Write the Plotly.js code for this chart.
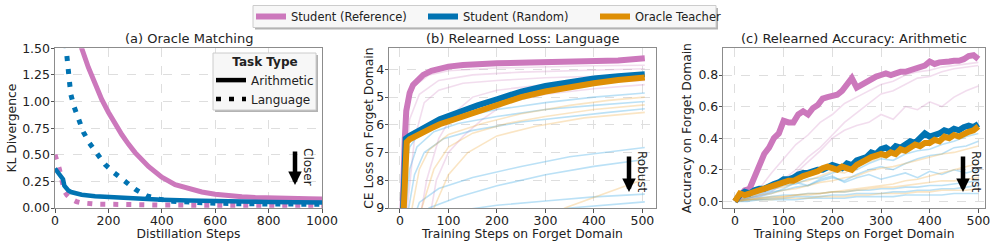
<!DOCTYPE html>
<html>
<head>
<meta charset="utf-8">
<script src="https://cdn.plot.ly/plotly-3.0.1.min.js"></script>
<style>html,body{margin:0;padding:0;background:#fff;}#chart{width:996px;height:248px;}</style>
</head>
<body>
<div id="chart"></div>
<script>
// ---------- Panel (a): Oracle Matching (KL divergence vs distillation steps) ----------
const aRefArithX = [0,10,20,30,40,50,60,70,80,90,100,125,150,175,200,225,250,275,300,350,400,450,500,550,600,650,700,750,800,850,900,950,1000];
const aRefArithY = [3.2,2.95,2.72,2.5,2.3,2.12,1.96,1.82,1.7,1.6,1.5,1.32,1.16,1.02,0.9,0.79,0.69,0.6,0.52,0.39,0.29,0.22,0.18,0.15,0.13,0.115,0.105,0.098,0.093,0.09,0.088,0.086,0.085];
const aRandArithX = [0,5,10,20,30,35,40,50,60,80,100,150,200,300,400,500,600,800,1000];
const aRandArithY = [0.37,0.35,0.33,0.3,0.27,0.21,0.19,0.165,0.15,0.135,0.125,0.11,0.102,0.088,0.078,0.07,0.064,0.057,0.052];
const aRandLangX = [0,20,35,44,50,54,59,71,87,106,129,156,187,222,260,300,344,391,440,500,600,700,800,900,1000];
const aRandLangY = [3.5,2.3,1.7,1.44,1.32,1.19,1.07,0.955,0.83,0.715,0.61,0.51,0.41,0.33,0.25,0.176,0.113,0.082,0.063,0.052,0.045,0.04,0.038,0.036,0.035];
const aRefLangX = [0,8,16,25,35,45,60,80,100,150,200,300,400,600,800,1000];
const aRefLangY = [0.5,0.44,0.37,0.27,0.16,0.12,0.085,0.06,0.048,0.037,0.033,0.03,0.028,0.026,0.025,0.025];

// ---------- Panel (b): Relearned Loss: Language ----------
const bRefX = [0,4,7,10,13,20,27,35,48,65,82,100,130,150,200,268,330,400,450,505];
const bRefY = [12,9.2,7.5,6.5,5.5,4.85,4.56,4.4,4.2,4.05,3.96,3.9,3.84,3.81,3.78,3.75,3.74,3.71,3.68,3.6];
const bRandX = [0,5,7,9,12,20,30,48,65,82,100,130,160,200,250,300,350,400,450,505];
const bRandY = [12,9.5,8,6.8,6.5,6.4,6.3,6.12,5.95,5.8,5.68,5.48,5.3,5.08,4.8,4.6,4.45,4.33,4.25,4.18];
const bOrcX = [0,7,9,11,14,20,30,48,65,82,100,130,160,200,250,300,350,400,450,505];
const bOrcY = [12,9.5,8,7,6.62,6.52,6.42,6.28,6.12,5.98,5.87,5.68,5.5,5.28,5.0,4.8,4.63,4.5,4.38,4.29];
// faint individual runs (b)
const bFaintRef = [
  {x:[0,8,15,30,60,100,200,300,400,505], y:[12,7,5.2,4.6,4.2,4.05,3.95,3.9,3.87,3.85]},
  {x:[0,10,20,40,80,150,250,400,505], y:[12,8,5.8,4.9,4.4,4.2,4.1,4.02,3.98]},
  {x:[0,15,30,50,80,130,200,300,505], y:[12,9,6.5,5.2,4.75,4.5,4.4,4.3,4.2]},
  {x:[0,40,55,80,110,150,200,300,400,505], y:[12,9.5,8,6.5,5.6,5.0,4.75,4.55,4.45,4.4]},
  {x:[0,60,75,100,131,170,220,300,400,505], y:[12,9.5,8,7.0,6.4,5.8,5.2,4.9,4.7,4.55]}
];
const bFaintRand = [
  {x:[0,8,12,20,40,80,130,200,300,400,505], y:[12,9,7.5,6.8,6.3,5.95,5.7,5.45,5.2,5.0,4.85]},
  {x:[0,12,20,35,70,120,200,300,400,505], y:[12,9,7.6,6.8,6.25,5.95,5.7,5.45,5.3,5.16]},
  {x:[0,18,30,50,90,150,250,350,430,505], y:[12,9,7.8,7.0,6.5,6.2,5.9,5.7,5.55,5.42]},
  {x:[0,20,40,80,150,250,350,450,505], y:[12,9.8,8.8,8.3,7.9,7.5,7.15,6.92,6.82]},
  {x:[0,30,60,120,200,300,400,505], y:[12,9.8,9.0,8.6,8.2,7.8,7.5,7.25]},
  {x:[0,60,120,200,300,400,505], y:[12,10,9.1,8.9,8.75,8.6,8.5]},
  {x:[0,150,250,350,505], y:[12,10,9.3,9.0,8.78]}
];
const bFaintOrc = [
  {x:[0,25,40,60,100,170,250,350,430,505], y:[12,9,7.6,6.9,6.35,5.95,5.6,5.3,5.12,5.0]},
  {x:[0,45,70,100,150,220,300,400,505], y:[12,9,7.6,6.8,6.3,5.95,5.7,5.45,5.28]},
  {x:[0,70,100,140,200,280,380,505], y:[12,9,7.8,7.0,6.4,6.05,5.75,5.55]},
  {x:[0,300,340,420,505], y:[12,9.5,9.0,8.5,7.95]}
];

// ---------- Panel (c): Relearned Accuracy: Arithmetic ----------
const cSteps = [0,10,20,30,40,50,60,70,80,90,100,110,120,130,140,150,160,170,180,190,200,210,220,230,240,250,260,270,280,290,300,310,320,330,340,350,360,370,380,390,400,410,420,430,440,450,460,470,480,490,500];
const cRef = [0.0,0.04,0.07,0.08,0.16,0.22,0.3,0.34,0.4,0.43,0.51,0.5,0.5,0.55,0.57,0.55,0.59,0.61,0.65,0.66,0.67,0.675,0.7,0.74,0.78,0.72,0.74,0.75,0.77,0.79,0.8,0.81,0.8,0.81,0.82,0.82,0.83,0.845,0.85,0.86,0.885,0.87,0.88,0.88,0.885,0.89,0.89,0.9,0.92,0.925,0.9];
const cRand = [0.0,0.04,0.06,0.05,0.07,0.08,0.08,0.1,0.11,0.12,0.14,0.14,0.15,0.17,0.18,0.18,0.19,0.2,0.2,0.22,0.23,0.22,0.21,0.24,0.23,0.26,0.27,0.28,0.31,0.3,0.33,0.34,0.32,0.35,0.34,0.36,0.38,0.37,0.4,0.43,0.41,0.42,0.43,0.45,0.44,0.46,0.45,0.47,0.48,0.47,0.49];
const cOrc = [0.0,0.05,0.04,0.05,0.06,0.07,0.08,0.09,0.1,0.11,0.12,0.13,0.13,0.15,0.16,0.17,0.18,0.19,0.21,0.22,0.21,0.2,0.22,0.21,0.2,0.23,0.25,0.26,0.28,0.29,0.3,0.29,0.31,0.3,0.33,0.32,0.34,0.36,0.35,0.37,0.37,0.39,0.38,0.41,0.4,0.42,0.41,0.43,0.44,0.45,0.475];
const cFaintSteps = [0,25,50,75,100,125,150,175,200,225,250,275,300,325,350,375,400,425,450,475,500];
const cFaintRef = [
  [0,0.03,0.08,0.18,0.27,0.36,0.42,0.5,0.55,0.62,0.66,0.7,0.74,0.76,0.8,0.82,0.83,0.85,0.86,0.87,0.88],
  [0,0.02,0.04,0.08,0.14,0.2,0.28,0.34,0.42,0.5,0.56,0.62,0.68,0.7,0.74,0.78,0.79,0.82,0.84,0.85,0.86],
  [0,0.02,0.03,0.06,0.12,0.18,0.25,0.32,0.4,0.45,0.48,0.5,0.55,0.52,0.6,0.58,0.63,0.6,0.66,0.7,0.73]
];
const cFaintRand = [
  [0,0.03,0.05,0.07,0.1,0.11,0.14,0.15,0.18,0.2,0.2,0.24,0.27,0.26,0.3,0.32,0.33,0.36,0.38,0.41,0.43],
  [0,0.02,0.04,0.06,0.07,0.09,0.1,0.13,0.15,0.13,0.17,0.2,0.22,0.2,0.24,0.27,0.29,0.3,0.34,0.35,0.38],
  [0,0.02,0.03,0.05,0.08,0.12,0.1,0.14,0.16,0.12,0.15,0.17,0.14,0.16,0.18,0.15,0.19,0.17,0.2,0.18,0.2],
  [0,0.01,0.02,0.03,0.04,0.04,0.05,0.05,0.06,0.06,0.07,0.07,0.08,0.08,0.09,0.09,0.1,0.1,0.11,0.12,0.13],
  [0,0.01,0.01,0.02,0.02,0.03,0.03,0.03,0.04,0.04,0.05,0.05,0.05,0.06,0.06,0.07,0.07,0.08,0.08,0.09,0.1],
  [0,0.0,0.01,0.01,0.01,0.01,0.02,0.02,0.02,0.02,0.03,0.03,0.03,0.03,0.04,0.04,0.04,0.04,0.05,0.05,0.05]
];
const cFaintOrc = [
  [0,0.03,0.06,0.08,0.09,0.12,0.13,0.16,0.19,0.18,0.22,0.25,0.28,0.3,0.31,0.35,0.36,0.38,0.41,0.43,0.46],
  [0,0.02,0.04,0.05,0.07,0.08,0.1,0.12,0.13,0.15,0.16,0.19,0.21,0.22,0.24,0.26,0.28,0.3,0.31,0.33,0.35],
  [0,0.01,0.02,0.03,0.03,0.04,0.05,0.05,0.06,0.07,0.08,0.09,0.1,0.11,0.13,0.14,0.16,0.18,0.2,0.22,0.24],
  [0,0.01,0.02,0.02,0.03,0.04,0.04,0.05,0.06,0.06,0.07,0.08,0.09,0.09,0.1,0.11,0.12,0.13,0.13,0.14,0.15],
  [0,0.01,0.01,0.01,0.02,0.02,0.02,0.03,0.03,0.03,0.04,0.04,0.05,0.05,0.05,0.06,0.06,0.07,0.07,0.07,0.08]
];

// ---------- labels ----------
const seriesNames = ['Student (Reference)', 'Student (Random)', 'Oracle Teacher'];
const taskNames = ['Arithmetic', 'Language'];
const panelTitles = ['(a) Oracle Matching', '(b) Relearned Loss: Language', '(c) Relearned Accuracy: Arithmetic'];
const xTitles = ['Distillation Steps', 'Training Steps on Forget Domain', 'Training Steps on Forget Domain'];
const yTitles = ['KL Divergence', 'CE Loss on Forget Domain', 'Accuracy on Forget Domain'];
const arrowLabels = ['Closer', 'Robust', 'Robust'];
const aXTicks = [0,200,400,600,800,1000];
const aYTicks = [0,0.25,0.5,0.75,1.0,1.25,1.5];
const bXTicks = [0,100,200,300,400,500];
const bYTicks = [4,5,6,7,8,9];
const cXTicks = [0,100,200,300,400,500];
const cYTicks = [0,0.2,0.4,0.6,0.8];

// ---------- styles ----------
const PINK = '#cc78bc', BLUE = '#0173b2', ORANGE = '#de8f05';
const PINK_F = 'rgba(204,120,188,0.25)', BLUE_F = 'rgba(86,180,233,0.4)', ORANGE_F = 'rgba(240,170,60,0.3)';
const FONT = 'DejaVu Sans, sans-serif';
const DOT = '5px,8px';

const traces = [];
function line(x, y, color, width, xa, ya, extra) {
  return Object.assign({type:'scatter', mode:'lines', x:x, y:y, xaxis:xa, yaxis:ya,
    line:{color:color, width:width}, showlegend:false, hoverinfo:'skip'}, extra || {});
}
// (a)
traces.push(line(aRefLangX, aRefLangY, PINK, 5, 'x', 'y', {line:{color:PINK, width:5, dash:DOT}}));
traces.push(line(aRefArithX, aRefArithY, PINK, 5, 'x', 'y'));
traces.push(line(aRandLangX, aRandLangY, BLUE, 5, 'x', 'y', {line:{color:BLUE, width:5, dash:DOT}}));
traces.push(line(aRandArithX, aRandArithY, BLUE, 4.5, 'x', 'y'));
// task-type legend entries
traces.push({type:'scatter', mode:'lines', x:[null], y:[null], xaxis:'x', yaxis:'y', name:taskNames[0], legend:'legend2', showlegend:true, line:{color:'#000', width:4.5}});
traces.push({type:'scatter', mode:'lines', x:[null], y:[null], xaxis:'x', yaxis:'y', name:taskNames[1], legend:'legend2', showlegend:true, line:{color:'#000', width:4.5, dash:DOT}});
// (b) faint
bFaintRef.forEach(r => traces.push(line(r.x, r.y, PINK_F, 1.6, 'x2', 'y2')));
bFaintRand.forEach(r => traces.push(line(r.x, r.y, BLUE_F, 1.6, 'x2', 'y2')));
bFaintOrc.forEach(r => traces.push(line(r.x, r.y, ORANGE_F, 1.6, 'x2', 'y2')));
// (c) faint
cFaintRef.forEach(r => traces.push(line(cFaintSteps, r, PINK_F, 1.6, 'x3', 'y3')));
cFaintRand.forEach(r => traces.push(line(cFaintSteps, r, BLUE_F, 1.6, 'x3', 'y3')));
cFaintOrc.forEach(r => traces.push(line(cFaintSteps, r, ORANGE_F, 1.6, 'x3', 'y3')));
// (b) thick
traces.push(line(bRefX, bRefY, PINK, 6, 'x2', 'y2', {name:seriesNames[0], showlegend:true, legend:'legend'}));
traces.push(line(bRandX, bRandY, BLUE, 6, 'x2', 'y2', {name:seriesNames[1], showlegend:true, legend:'legend'}));
traces.push(line(bOrcX, bOrcY, ORANGE, 6, 'x2', 'y2', {name:seriesNames[2], showlegend:true, legend:'legend'}));
// (c) thick
traces.push(line(cSteps, cRef, PINK, 6, 'x3', 'y3'));
traces.push(line(cSteps, cRand, BLUE, 6, 'x3', 'y3'));
traces.push(line(cSteps, cOrc, ORANGE, 6, 'x3', 'y3'));

const W = 996, H = 248;
const fy = p => 1 - p / H, fx = p => p / W;
const yDom = [fy(208), fy(48.3)];
const TXT = '#222';

function ax(dom, range, ticks, title, fmt, isX, standoff, extra) {
  return Object.assign({
    domain: dom, range: range, tickmode:'array', tickvals: ticks,
    ticktext: ticks.map(v => fmt ? v.toFixed(fmt) : String(v)),
    showline:true, linecolor:'#8c8c8c', linewidth:1, mirror:true,
    ticks:'outside', ticklen:3.5, tickwidth:1, tickcolor:'#555',
    tickfont:{family:FONT, size:12.5, color:TXT},
    ticklabelstandoff: isX ? -3 : -2,
    showgrid:true, gridcolor:'#dedede', gridwidth:1, griddash:'dash',
    zeroline:false, automargin:false,
    title:{text:title, standoff: standoff, font:{family:FONT, size:12.3, color:TXT}}
  }, extra || {});
}

function ann(text, x, y, size, extra) {
  return Object.assign({text:text, xref:'paper', yref:'paper', x:fx(x), y:fy(y), xanchor:'center', yanchor:'middle',
    showarrow:false, font:{family:FONT, size:size, color:TXT}}, extra || {});
}
function arrow(x, yTip, len) {
  return {text:'', xref:'paper', yref:'paper', x:fx(x), y:fy(yTip), ax:0, ay:-len, axref:'pixel', ayref:'pixel',
    showarrow:true, arrowhead:2, arrowwidth:4.5, arrowsize:0.6, arrowcolor:'#000', standoff:0};
}

const layout = {
  width: W, height: H,
  margin:{l:0, r:0, t:0, b:0},
  paper_bgcolor:'#fff', plot_bgcolor:'#fff',
  font:{family:FONT, color:TXT},
  xaxis:  ax([fx(55), fx(322)], [0, 1000], aXTicks, xTitles[0], 0, true, 2, {anchor:'y'}),
  yaxis:  ax(yDom, [0, 1.5], aYTicks, yTitles[0], 2, false, 2, {anchor:'x'}),
  xaxis2: ax([fx(389.3), fx(655.7)], [-22, 527.5], bXTicks, xTitles[1], 0, true, 2, {anchor:'y2'}),
  yaxis2: ax(yDom, [9, 3.24], bYTicks, yTitles[1], 0, false, 0, {anchor:'x2'}),
  xaxis3: ax([fx(723.3), fx(985)], [-24, 513.6], cXTicks, xTitles[2], 0, true, 2, {anchor:'y3'}),
  yaxis3: ax(yDom, [-0.042, 0.969], cYTicks, yTitles[2], 1, false, 4, {anchor:'x3'}),
  showlegend:true,
  legend:{orientation:'h', x:fx(251), y:fy(2), xanchor:'left', yanchor:'top',
    bgcolor:'rgba(0,0,0,0)', borderwidth:0,
    font:{family:FONT, size:11.5, color:TXT}, entrywidth:127, entrywidthmode:'pixels', tracegroupgap:0},
  legend2:{x:fx(211), y:fy(50), xanchor:'left', yanchor:'top',
    bgcolor:'rgba(0,0,0,0)', borderwidth:0,
    font:{family:FONT, size:12, color:TXT},
    title:{text:'<b>Task Type</b>', side:'top center', font:{family:FONT, size:12, color:TXT}}},
  shapes: [
    // top legend frame with shadow
    {type:'rect', xref:'paper', yref:'paper', x0:fx(255), x1:fx(718), y0:fy(29.5), y1:fy(8), fillcolor:'#b3b3b3', line:{width:0}, layer:'above'},
    {type:'rect', xref:'paper', yref:'paper', x0:fx(253), x1:fx(716), y0:fy(27.5), y1:fy(5.5), fillcolor:'#f7f7f7', line:{color:'#cccccc', width:1}, layer:'above'},
    // task type legend frame
    {type:'rect', xref:'paper', yref:'paper', x0:fx(215), x1:fx(318), y0:fy(112), y1:fy(55), fillcolor:'#b3b3b3', line:{width:0}, layer:'above'},
    {type:'rect', xref:'paper', yref:'paper', x0:fx(213), x1:fx(316), y0:fy(110), y1:fy(53), fillcolor:'#f7f7f7', line:{color:'#cccccc', width:1}, layer:'above'}
  ],
  annotations: [
    ann(panelTitles[0], 188.5, 39, 13),
    ann(panelTitles[1], 522.5, 39, 13),
    ann(panelTitles[2], 854, 39, 13),
    arrow(295, 185, 35),
    ann(arrowLabels[0], 308, 167, 12, {textangle:90}),
    arrow(629, 192, 37),
    ann(arrowLabels[1], 642, 172, 12, {textangle:90}),
    arrow(963, 192, 37),
    ann(arrowLabels[2], 976, 172, 12, {textangle:90})
  ]
};

Plotly.newPlot('chart', traces, layout, {staticPlot:true, displayModeBar:false});
</script>
</body>
</html>
